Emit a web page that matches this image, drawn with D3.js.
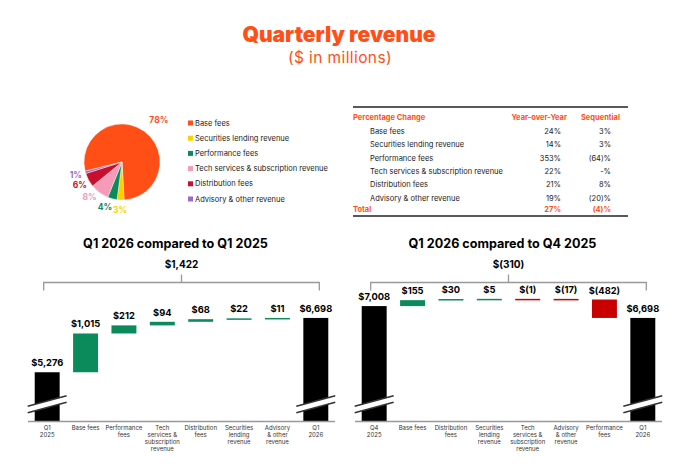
<!DOCTYPE html>
<html>
<head>
<meta charset="utf-8">
<script src="https://cdn.jsdelivr.net/npm/d3@7"></script>
<style>
  html, body { margin: 0; padding: 0; background: #fff; }
  svg { display: block; font-family: Inter, "Open Sans", sans-serif; }
</style>
</head>
<body>
<svg id="chart" width="680" height="476"></svg>
<script>
// ---------------- DATA ----------------
const titleText = "Quarterly revenue";
const subtitleText = "($ in millions)";

const pieCategories = ["Base fees", "Securities lending revenue", "Performance fees",
  "Tech services & subscription revenue", "Distribution fees", "Advisory & other revenue"];
const pieShares = [78, 3, 4, 8, 6, 1];
const pieColors = ["#ff4f17", "#ffd000", "#0b8a5c", "#f59ab8", "#c8102e", "#9b6bc9"];

const tableHeader = ["Percentage Change", "Year-over-Year", "Sequential"];
const tableRows = ["Base fees", "Securities lending revenue", "Performance fees",
  "Tech services & subscription revenue", "Distribution fees", "Advisory & other revenue"];
const tableYoY = ["24%", "14%", "353%", "22%", "21%", "19%"];
const tableSeq = ["3%", "3%", "(64)%", "-%", "8%", "(20)%"];
const tableTotal = ["Total", "27%", "(4)%"];

const leftTitle = "Q1 2026 compared to Q1 2025";
const leftCategories = ["Q1 2025", "Base fees", "Performance fees", "Tech services & subscription revenue",
  "Distribution fees", "Securities lending revenue", "Advisory & other revenue", "Q1 2026"];
const leftValues = [5276, 1015, 212, 94, 68, 22, 11, 6698];
const leftTickLabels = [["Q1", "2025"], ["Base fees"], ["Performance", "fees"],
  ["Tech", "services &", "subscription", "revenue"], ["Distribution", "fees"],
  ["Securities", "lending", "revenue"], ["Advisory", "& other", "revenue"], ["Q1", "2026"]];

const rightTitle = "Q1 2026 compared to Q4 2025";
const rightCategories = ["Q4 2025", "Base fees", "Distribution fees", "Securities lending revenue",
  "Tech services & subscription revenue", "Advisory & other revenue", "Performance fees", "Q1 2026"];
const rightValues = [7008, 155, 30, 5, -1, -17, -482, 6698];
const rightTickLabels = [["Q4", "2025"], ["Base fees"], ["Distribution", "fees"],
  ["Securities", "lending", "revenue"], ["Tech", "services &", "subscription", "revenue"],
  ["Advisory", "& other", "revenue"], ["Performance", "fees"], ["Q1", "2026"]];

const brokenAxisBase = 4000;   // value at which the broken total bars meet the axis

// ---------------- STYLE ----------------
const ORANGE = "#ff4f17";
const GREEN = "#0b8a5c";
const RED = "#c80000";
const TEXT = "#1a1a1a";

const svg = d3.select("#chart");

// Titles
svg.append("text").attr("x", 339).attr("y", 42).attr("text-anchor", "middle")
  .attr("font-size", 21).attr("font-weight", 900).attr("fill", ORANGE).text(titleText);
svg.append("text").attr("x", 340).attr("y", 63).attr("text-anchor", "middle")
  .attr("font-size", 15.5).attr("font-weight", 400).attr("letter-spacing", 0.4)
  .attr("fill", ORANGE).text(subtitleText);

// ---------------- PIE ----------------
const pieCx = 122, pieCy = 162, pieR = 38;
const startA = -104 * Math.PI / 180;
const pie = d3.pie().sort(null).startAngle(startA).endAngle(startA + 2 * Math.PI);
const arcs = pie(pieShares);
const arc = d3.arc().innerRadius(0).outerRadius(pieR);
const pg = svg.append("g").attr("transform", `translate(${pieCx},${pieCy})`);
pg.selectAll("path").data(arcs).join("path")
  .attr("d", arc).attr("fill", (d, i) => pieColors[i])
  .attr("stroke", "#fff").attr("stroke-width", 0.4);

// labels with simple collision avoidance
const lab = arcs.map((d, i) => ({ i, a: (d.startAngle + d.endAngle) / 2, text: pieShares[i] + "%",
  r: (d.endAngle - d.startAngle) > Math.PI ? 52 : 48 }));
function pos(l) { return [Math.sin(l.a) * l.r, -Math.cos(l.a) * l.r]; }
const sortedLab = lab.slice().sort((p, q) => p.a - q.a);
for (let k = 1; k < sortedLab.length; k++) {
  const prev = sortedLab[k - 1], cur = sortedLab[k];
  let guard = 0;
  while (guard++ < 60) {
    const [x1, y1] = pos(prev), [x2, y2] = pos(cur);
    if (Math.abs(x1 - x2) < 15 && Math.abs(y1 - y2) < 9) cur.a += Math.PI / 180; else break;
  }
}
pg.selectAll("text.pl").data(lab).join("text").attr("class", "pl")
  .attr("x", d => pos(d)[0] + (d.r > 50 ? 6 : 0)).attr("y", d => pos(d)[1]).attr("dy", "0.35em")
  .attr("text-anchor", "middle").attr("font-size", 8.5).attr("font-weight", 700)
  .attr("fill", d => pieColors[d.i]).text(d => d.text);

// legend
const lg = svg.append("g").attr("transform", "translate(188,123)");
const legY = d3.scalePoint().domain(pieCategories).range([0, 76]);
lg.selectAll("rect").data(pieCategories).join("rect")
  .attr("x", 0).attr("y", d => legY(d) - 2.5).attr("width", 5).attr("height", 5)
  .attr("fill", (d, i) => pieColors[i]);
lg.selectAll("text").data(pieCategories).join("text")
  .attr("x", 7).attr("y", d => legY(d)).attr("dy", "0.35em")
  .attr("font-size", 7.5).attr("fill", TEXT).text(d => d);

// ---------------- TABLE ----------------
const tg = svg.append("g");
const tX0 = 353, tX1 = 628, tLabelX = 370, tYoYX = 561, tSeqX = 611;
tg.append("line").attr("x1", tX0).attr("x2", tX1).attr("y1", 107).attr("y2", 107)
  .attr("stroke", "#222").attr("stroke-width", 1.6);
tg.append("line").attr("x1", tX0).attr("x2", tX1).attr("y1", 216).attr("y2", 216)
  .attr("stroke", "#222").attr("stroke-width", 1.6);
tg.append("text").attr("x", tX0).attr("y", 120).attr("font-size", 7.5).attr("font-weight", 700)
  .attr("fill", ORANGE).text(tableHeader[0]);
tg.append("text").attr("x", 567).attr("y", 120).attr("text-anchor", "end").attr("font-size", 7.5)
  .attr("font-weight", 700).attr("fill", ORANGE).text(tableHeader[1]);
tg.append("text").attr("x", 620).attr("y", 120).attr("text-anchor", "end").attr("font-size", 7.5)
  .attr("font-weight", 700).attr("fill", ORANGE).text(tableHeader[2]);
const rowY = d3.scalePoint().domain(tableRows).range([134, 200.5]);
tableRows.forEach((r, i) => {
  const y = rowY(r);
  tg.append("text").attr("x", tLabelX).attr("y", y).attr("font-size", 7.5).attr("fill", TEXT).text(r);
  tg.append("text").attr("x", tYoYX).attr("y", y).attr("text-anchor", "end").attr("font-size", 7.5).attr("fill", TEXT).text(tableYoY[i]);
  tg.append("text").attr("x", tSeqX).attr("y", y).attr("text-anchor", "end").attr("font-size", 7.5).attr("fill", TEXT).text(tableSeq[i]);
});
tg.append("text").attr("x", tX0).attr("y", 212).attr("font-size", 7.5).attr("font-weight", 700).attr("fill", ORANGE).text(tableTotal[0]);
tg.append("text").attr("x", tYoYX).attr("y", 212).attr("text-anchor", "end").attr("font-size", 7.5).attr("font-weight", 700).attr("fill", ORANGE).text(tableTotal[1]);
tg.append("text").attr("x", tSeqX).attr("y", 212).attr("text-anchor", "end").attr("font-size", 7.5).attr("font-weight", 700).attr("fill", ORANGE).text(tableTotal[2]);

// ---------------- WATERFALLS ----------------
const baseY = 421;
const y = d3.scaleLinear().domain([brokenAxisBase, 7200]).range([baseY, baseY - 3200 * 0.0382]);
const num = d3.format(",");
const money = v => v < 0 ? `$(${num(-v)})` : `$${num(v)}`;

function waterfall(title, cats, vals, ticks, x0, x1) {
  const g = svg.append("g");
  const x = d3.scaleBand().domain(cats).range([x0, x1]).paddingInner(0.35).paddingOuter(0.175);
  const bw = x.bandwidth();
  const n = cats.length;
  let cum = 0;
  const bars = cats.map((c, i) => {
    if (i === 0 || i === n - 1) {
      cum = vals[i];
      return { c, v: vals[i], lo: brokenAxisBase, hi: vals[i], total: true };
    }
    const s = cum; cum += vals[i];
    return { c, v: vals[i], lo: Math.min(s, cum), hi: Math.max(s, cum), total: false };
  });

  // bars
  g.selectAll("rect.bar").data(bars).join("rect").attr("class", "bar")
    .attr("x", d => x(d.c)).attr("width", bw)
    .attr("y", d => y(d.hi))
    .attr("height", d => Math.max(1.5, y(d.lo) - y(d.hi)))
    .attr("fill", d => d.total ? "#000" : (d.v >= 0 ? GREEN : RED));

  // value labels
  g.selectAll("text.val").data(bars).join("text").attr("class", "val")
    .attr("x", d => x(d.c) + bw / 2).attr("y", d => y(d.hi) - 6)
    .attr("text-anchor", "middle").attr("font-size", 9.3).attr("font-weight", 700)
    .attr("fill", "#000").text(d => money(d.v));

  // axis baseline
  g.append("line").attr("x1", x0).attr("x2", x1).attr("y1", baseY + 0.5).attr("y2", baseY + 0.5)
    .attr("stroke", "#999").attr("stroke-width", 1.5);

  // axis break marks on the total bars
  bars.filter(d => d.total).forEach(d => {
    const cx = x(d.c) + bw / 2;
    const half = bw / 2 + 7, rise = 5.2;
    const yu = baseY - 20, yl = baseY - 13.5;
    g.append("path")
      .attr("d", `M${cx - half},${yu + rise}L${cx + half},${yu - rise}L${cx + half},${yl - rise}L${cx - half},${yl + rise}Z`)
      .attr("fill", "#fff");
    [yu, yl].forEach(yy => {
      g.append("line").attr("x1", cx - half).attr("y1", yy + rise).attr("x2", cx + half).attr("y2", yy - rise)
        .attr("stroke", "#333").attr("stroke-width", 1.5);
    });
  });

  // tick labels
  const tl = g.selectAll("text.tick").data(cats).join("text").attr("class", "tick")
    .attr("text-anchor", "middle").attr("font-size", 6).attr("fill", "#333");
  tl.each(function (c, i) {
    d3.select(this).selectAll("tspan").data(ticks[i]).join("tspan")
      .attr("x", x(c) + bw / 2).attr("y", (t, j) => baseY + 9 + j * 6.9).text(t => t);
  });

  // bracket
  const bx0 = x(cats[0]) + bw / 2 - 3.5, bx1 = x(cats[n - 1]) + bw / 2 + 3.5;
  const bmid = (bx0 + bx1) / 2, by = 282.5;
  g.append("path").attr("d", `M${bx0},${by + 8}V${by}H${bx1}V${by + 8}M${bmid},${by}V${by - 8}`)
    .attr("fill", "none").attr("stroke", "#999").attr("stroke-width", 1.3);
  g.append("text").attr("x", bmid).attr("y", 268).attr("text-anchor", "middle")
    .attr("font-size", 10).attr("font-weight", 700).attr("fill", "#000")
    .text(money(vals[n - 1] - vals[0]));

  // title
  g.append("text").attr("x", bmid - 6).attr("y", 248).attr("text-anchor", "middle")
    .attr("font-size", 12.6).attr("font-weight", 700).attr("fill", "#000").text(title);
}

waterfall(leftTitle, leftCategories, leftValues, leftTickLabels, 28, 335);
waterfall(rightTitle, rightCategories, rightValues, rightTickLabels, 355, 662);
</script>
</body>
</html>
